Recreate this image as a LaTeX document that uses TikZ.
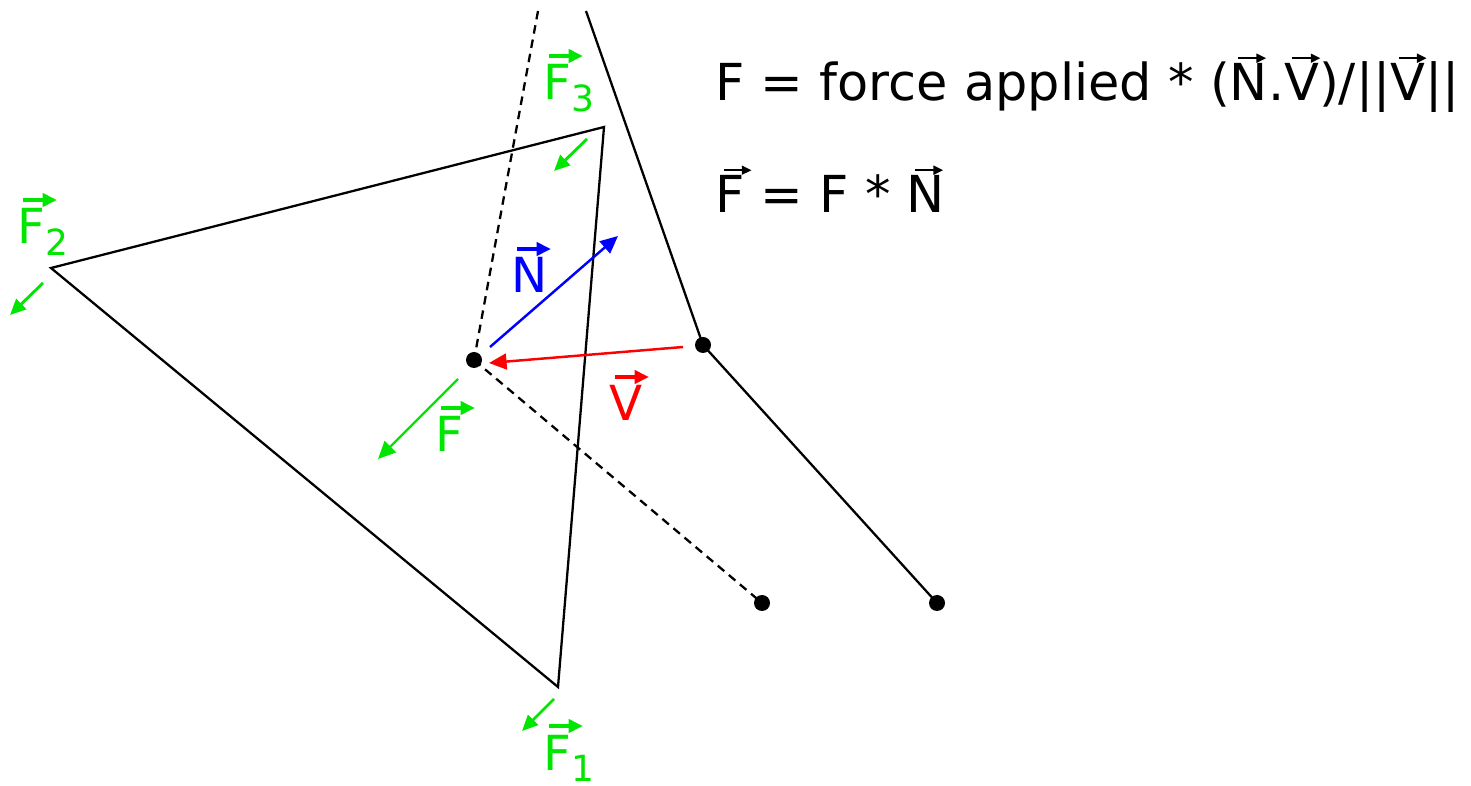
\documentclass[tikz,border=0pt]{standalone}
\usepackage{fontspec}
\setmainfont{DejaVu Sans}
\usetikzlibrary{arrows.meta}
\definecolor{vgreen}{RGB}{0,230,0}
\definecolor{vblue}{RGB}{0,0,255}
\definecolor{vred}{RGB}{255,0,0}
\newcommand\labvec[1]{\leavevmode\rlap{\kern0.08em\tikz[baseline={(0,-0.88cm)}]\draw[line width=1.8pt,-{Triangle[length=8pt,width=7.5pt]}] (0,0) -- (0.68cm,0);}#1}
\newcommand\frmvec[1]{\leavevmode\rlap{\kern0.14em\tikz[baseline={(0,-0.84em)}]\draw[line width=1.2pt,-{Triangle[length=5.5pt,width=5pt]}] (0,0) -- (0.55em,0);}#1}
\newcommand\subs[1]{\raisebox{-0.24cm}{\fontsize{20.5}{24}\selectfont #1}}
\begin{document}
\begin{tikzpicture}[x=0.02cm,y=-0.02cm,
  lab/.style={inner sep=0pt,anchor=base west,font=\fontsize{27.5}{33}\selectfont},
  frm/.style={inner sep=0pt,anchor=base west,font=\fontsize{29}{34}\selectfont},
  edge/.style={line width=1.3pt,black},
  dashededge/.style={edge,dash pattern=on 0.17cm off 0.12cm},
  dotnode/.style={circle,fill=black,inner sep=0pt,minimum size=0.32cm},
  vecarrow/.style={line width=1.4pt,-{Triangle[length=10pt,width=9pt]}},
  smallarrow/.style={line width=1.6pt,vgreen,-{Triangle[length=9pt,width=8pt]}}]
\path[use as bounding box] (0,0) rectangle (1471,786);
% triangle
\coordinate (tF2) at (51,268);
\coordinate (tF3) at (604,127);
\coordinate (tF1) at (558,687);
\draw[edge,line join=miter] (tF2) -- (tF3) -- (tF1) -- cycle;
% points
\node[dotnode] (p) at (474,360) {};
\node[dotnode] (q) at (703,345) {};
\node[dotnode] (r) at (762,603) {};
\node[dotnode] (s) at (937,603) {};
\coordinate (dtop) at (538,11);
\coordinate (stop) at (586,11);
\draw[dashededge] (dtop) -- (p.center);
\draw[dashededge] (p.center) -- (r.center);
\draw[edge] (stop) -- (q.center) -- (s.center);
% vectors
\coordinate (Ns) at (490,347);
\coordinate (Ne) at (618,236);
\draw[vecarrow,vblue] (Ns) -- (Ne);
\coordinate (Vs) at (683,347);
\coordinate (Ve) at (489,363);
\draw[vecarrow,vred] (Vs) -- (Ve);
\coordinate (Fs) at (458,379);
\coordinate (Fe) at (378,459);
\draw[vecarrow,vgreen] (Fs) -- (Fe);
% small force arrows
\coordinate (a3s) at (587,139);
\coordinate (a3e) at (554,171);
\draw[smallarrow] (a3s) -- (a3e);
\coordinate (a2s) at (43,283);
\coordinate (a2e) at (10,315);
\draw[smallarrow] (a2s) -- (a2e);
\coordinate (a1s) at (554,699);
\coordinate (a1e) at (522,731);
\draw[smallarrow] (a1s) -- (a1e);
% labels
\node[lab,text=vgreen] (lF3) at (543,100) {\labvec{F}\subs{3}};
\node[lab,text=vgreen] (lF2) at (17,244) {\labvec{F}\subs{2}};
\node[lab,text=vgreen] (lF1) at (543,770) {\labvec{F}\subs{1}};
\node[lab,text=vblue] (lN) at (511,293) {\labvec{N}};
\node[lab,text=vred] (lV) at (609,421) {\labvec{V}};
\node[lab,text=vgreen] (lF) at (435,452) {\labvec{F}};
% formulas
\node[frm] (f1) at (715,101) {F = force applied * (\frmvec{N}.\frmvec{V})/||\frmvec{V}||};
\node[frm] (f2) at (715,213) {\frmvec{F} = F * \frmvec{N}};
\end{tikzpicture}
\end{document}
